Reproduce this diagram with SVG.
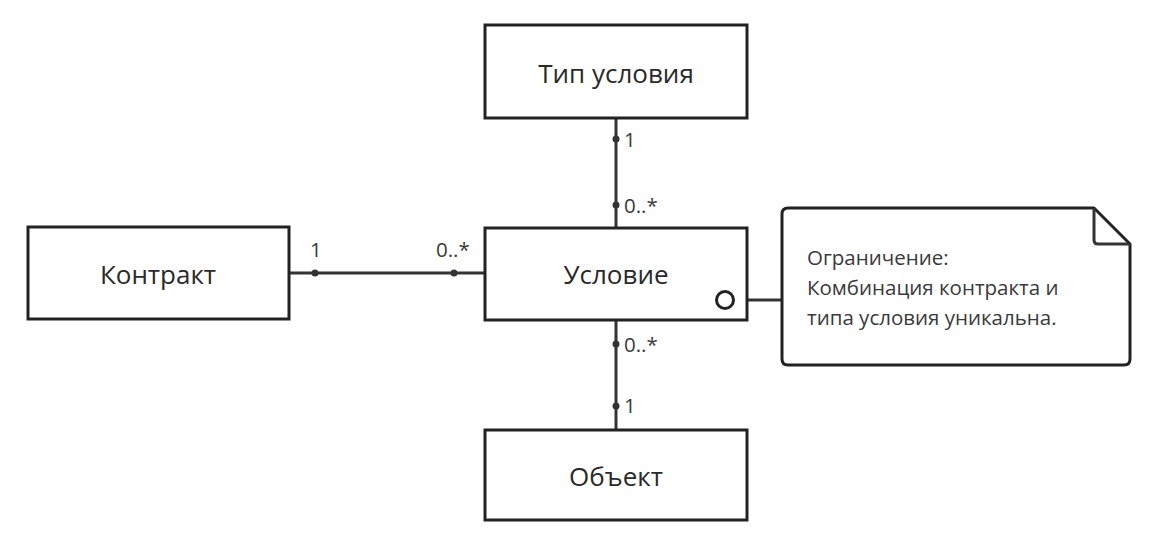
<svg xmlns="http://www.w3.org/2000/svg" width="1161" height="545" viewBox="0 0 1161 545">
<style>
.box{fill:#fff;stroke:#222;stroke-width:3}
.ln{fill:none;stroke:#333;stroke-width:3}
.t{font-family:"Open Sans","Noto Sans",sans-serif;font-size:26px;fill:#2a2a2a;text-anchor:middle;dominant-baseline:central}
.m{font-family:"Open Sans","Noto Sans",sans-serif;font-size:20.5px;fill:#3a3a3a}
.dot{fill:#333}
</style>
<rect width="1161" height="545" fill="#fff"/>
<g id="connectors">
<line class="ln" x1="289" y1="273" x2="485" y2="273"/>
<line class="ln" x1="616" y1="118" x2="616" y2="228"/>
<line class="ln" x1="616" y1="320" x2="616" y2="430"/>
<line class="ln" x1="733" y1="300" x2="782" y2="300"/>
<circle class="dot" cx="315" cy="273" r="3.5"/>
<circle class="dot" cx="454" cy="273" r="3.5"/>
<circle class="dot" cx="616" cy="139" r="3.5"/>
<circle class="dot" cx="616" cy="205" r="3.5"/>
<circle class="dot" cx="616" cy="344" r="3.5"/>
<circle class="dot" cx="616" cy="406" r="3.5"/>
<text class="m" x="310" y="257">1</text>
<text class="m" x="436" y="257">0..*</text>
<text class="m" x="624" y="147">1</text>
<text class="m" x="624" y="213">0..*</text>
<text class="m" x="624" y="352">0..*</text>
<text class="m" x="624" y="413">1</text>
</g>
<g id="tip">
<rect class="box" x="485" y="25" width="262" height="93"/>
<text class="t" x="616" y="73">Тип условия</text>
</g>
<g id="kontrakt">
<rect class="box" x="28" y="227" width="261" height="92"/>
<text class="t" x="158" y="274">Контракт</text>
</g>
<g id="uslovie">
<rect class="box" x="485" y="228" width="262" height="92"/>
<text class="t" x="616" y="274">Условие</text>
<circle cx="725" cy="300" r="8.5" fill="#fff" stroke="#222" stroke-width="3"/>
</g>
<g id="obekt">
<rect class="box" x="485" y="430" width="262" height="90"/>
<text class="t" x="616" y="476">Объект</text>
</g>
<g id="note">
<path class="box" stroke-linejoin="round" d="M788 208 H1094 L1130 244 V359 Q1130 365 1124 365 H788 Q782 365 782 359 V214 Q782 208 788 208 Z"/>
<path class="ln" stroke="#222" stroke-linejoin="round" d="M1094 208 V240 Q1094 244 1098 244 H1130"/>
<text class="m" x="807" y="265">Ограничение:</text>
<text class="m" x="807" y="295">Комбинация контракта и</text>
<text class="m" x="807" y="325">типа условия уникальна.</text>
</g>
</svg>
